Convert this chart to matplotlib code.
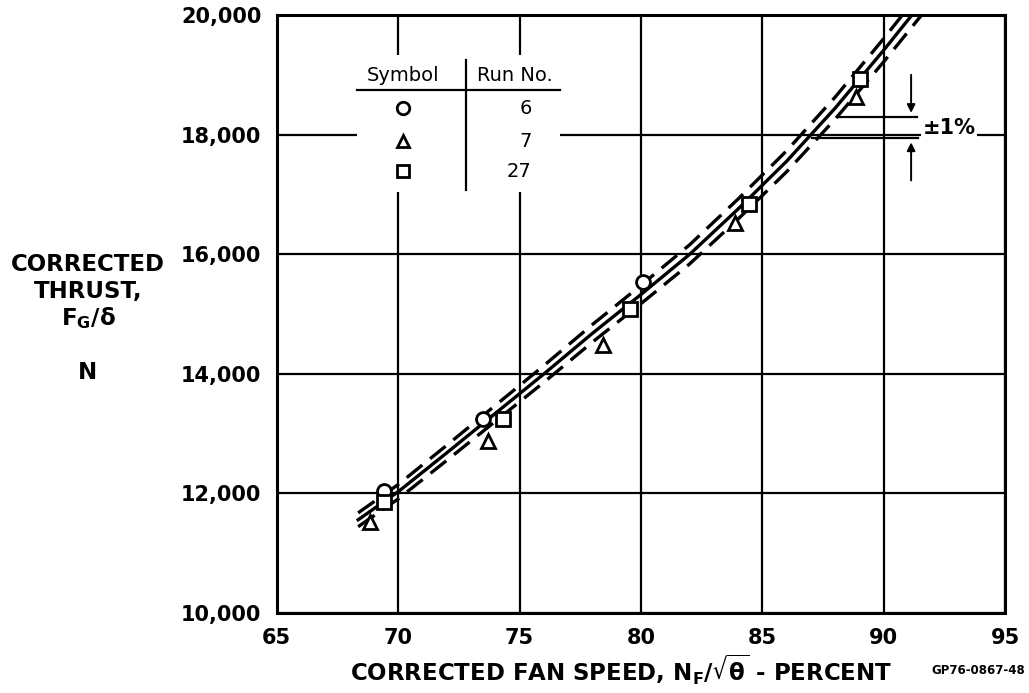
import matplotlib
matplotlib.use("Agg")
import matplotlib.pyplot as plt
import numpy as np

# ---- data ----
run6_x = [69.4, 73.5, 80.1]
run6_y = [12040, 13250, 15530]
run7_x = [68.85, 73.7, 78.45, 83.85, 88.85]
run7_y = [11520, 12870, 14480, 16520, 18630]
run27_x = [69.4, 74.3, 79.55, 84.45, 89.0]
run27_y = [11860, 13250, 15080, 16850, 18940]

fit_x = [68.35, 70, 72, 74, 76, 78, 80, 82, 84, 86, 88, 90, 91.6]
fit_y = [11560, 12030, 12680, 13340, 14000, 14680, 15330, 16000, 16760, 17560, 18450, 19420, 20230]
band_pct = 1.0

x_ticks = [65, 70, 75, 80, 85, 90, 95]
y_ticks = [10000, 12000, 14000, 16000, 18000, 20000]
y_tick_labels = ["10,000", "12,000", "14,000", "16,000", "18,000", "20,000"]

legend_symbols = ["o", "^", "s"]
legend_runs = ["6", "7", "27"]

plt.rcParams['font.family'] = ['DejaVu Sans']
plt.rcParams['font.weight'] = 'bold'
plt.rcParams['mathtext.default'] = 'regular'
plt.rcParams['mathtext.fontset'] = 'dejavusans'

fig = plt.figure(figsize=(10.29, 6.93), dpi=100)
ax = fig.add_axes([0.269, 0.1154, 0.708, 0.8626])
ax.set_xlim(65, 95)
ax.set_ylim(10000, 20000)
ax.set_xticks(x_ticks)
ax.set_yticks(y_ticks)
ax.set_yticklabels(y_tick_labels)
ax.tick_params(length=0, labelsize=15, pad=11)
for lab in ax.get_xticklabels() + ax.get_yticklabels():
    lab.set_fontweight('bold')
ax.grid(True, color='black', linewidth=1.6, zorder=1)
ax.set_axisbelow(True)
for s in ax.spines.values():
    s.set_linewidth(2.2)

# fit line and +/-1 % band
fx = np.array(fit_x)
fy = np.array(fit_y)
ax.plot(fx, fy, color='black', lw=2.4, zorder=3)
ax.plot(fx, fy * (1 + band_pct / 100), color='black', lw=2.4, ls=(0, (6, 3)), zorder=3)
ax.plot(fx, fy * (1 - band_pct / 100), color='black', lw=2.4, ls=(0, (6, 3)), zorder=3)

mk = dict(mfc='white', mec='black', mew=2, ls='none', zorder=5)
ax.plot(run6_x, run6_y, marker='o', ms=10, **mk)
ax.plot(run7_x, run7_y, marker='^', ms=10, **mk)
ax.plot(run27_x, run27_y, marker='s', ms=10, **mk)

# legend table
ax.add_patch(plt.Rectangle((68.3, 17040), 8.35, 2300, facecolor='white', edgecolor='none', zorder=2))
ax.text(70.2, 19000, "Symbol", ha='center', va='center', fontsize=14, fontweight='normal', zorder=6)
ax.text(74.8, 19000, "Run No.", ha='center', va='center', fontsize=14, fontweight='normal', zorder=6)
ax.plot([68.3, 76.65], [18745, 18745], color='black', lw=1.6, zorder=6)
ax.plot([72.8, 72.8], [17070, 19250], color='black', lw=1.6, zorder=6)
row_y = [18443, 17892, 17390]
for sym, run, yy in zip(legend_symbols, legend_runs, row_y):
    ax.plot([70.2], [yy], marker=sym, ms=9, **mk)
    ax.text(75.5, yy, run, ha='right', va='center', fontsize=14, fontweight='normal', zorder=6)

# +/-1 % annotation
ax.plot([88.06, 91.36], [18300, 18300], color='black', lw=1.6, zorder=4)
ax.plot([87.05, 91.4], [17940, 17940], color='black', lw=1.6, zorder=4)
ax.annotate("", xy=(91.12, 18320), xytext=(91.12, 19050),
            arrowprops=dict(arrowstyle='-|>', color='black', lw=1.4, mutation_scale=12), zorder=4)
ax.annotate("", xy=(91.12, 17920), xytext=(91.12, 17190),
            arrowprops=dict(arrowstyle='-|>', color='black', lw=1.4, mutation_scale=12), zorder=4)
ax.text(91.6, 18110, "\u00b11%", ha='left', va='center', fontsize=15, fontweight='bold',
        bbox=dict(facecolor='white', edgecolor='none', pad=1), zorder=6)

# axis labels
ax.set_xlabel(r"CORRECTED FAN SPEED, N$_\mathregular{F}$/$\sqrt{\theta}$ - PERCENT",
              fontsize=16.5, fontweight='bold')
ax.xaxis.set_label_coords(0.473, -0.066)
ylab = dict(ha='center', va='center', fontsize=16.5, fontweight='bold')
fig.text(0.0855, 0.618, "CORRECTED", **ylab)
fig.text(0.0855, 0.579, "THRUST,", **ylab)
fig.text(0.0855, 0.541, r"F$_\mathregular{G}$/$\delta$", **ylab)
fig.text(0.0855, 0.462, "N", **ylab)
fig.text(0.996, 0.032, "GP76-0867-48", ha='right', va='center', fontsize=8.5, fontweight='bold')

fig.savefig("out.png", dpi=100)
